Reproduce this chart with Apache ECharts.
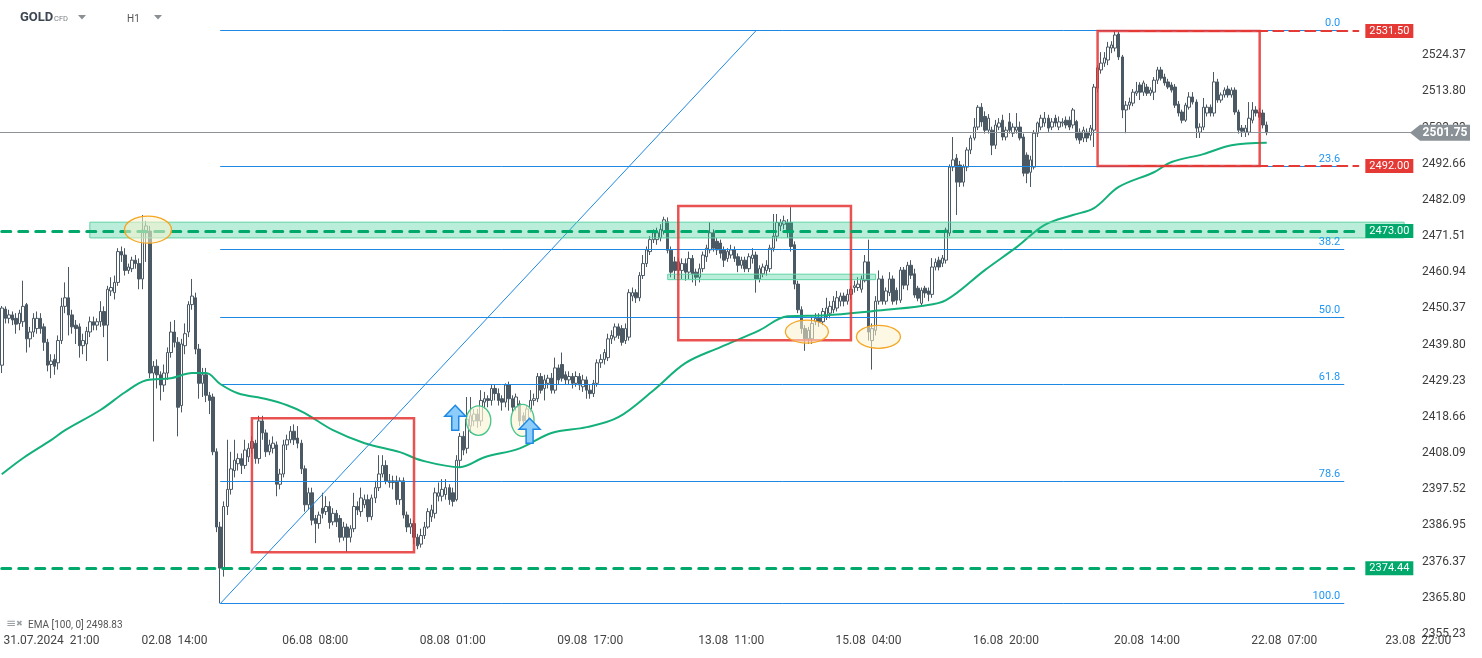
<!DOCTYPE html>
<html>
<head>
<meta charset="utf-8">
<title>GOLD H1</title>
<script src="https://cdn.jsdelivr.net/npm/echarts/dist/echarts.min.js"></script>
<style>
  html, body { margin: 0; padding: 0; background: #fff; }
  #chart { width: 1482px; height: 658px; }
</style>
</head>
<body>
<div id="chart"></div>
<script>
// GOLD CFD H1, bars from 31.07 11:00, each row: open, close, low, high
var candles = [
  [2433.8,2450.5,2431.5,2451.1],[2450.2,2447.5,2446.0,2451.0],[2447.5,2448.5,2446.0,2450.0],[2448.5,2447.0,2445.5,2449.5],
  [2447.5,2445.8,2443.0,2449.0],[2446.0,2449.0,2444.0,2450.0],[2446.5,2451.0,2445.0,2458.5],[2451.5,2441.5,2437.5,2452.0],
  [2441.5,2443.5,2439.0,2445.0],[2443.5,2447.5,2442.0,2449.0],[2444.5,2447.5,2443.0,2449.5],[2447.5,2444.5,2443.0,2449.0],
  [2445.0,2440.5,2438.0,2446.0],[2440.5,2433.8,2432.0,2441.5],[2434.0,2435.0,2430.0,2437.0],[2435.5,2433.5,2431.0,2437.0],
  [2434.5,2441.0,2432.5,2442.5],[2441.0,2451.0,2440.0,2453.5],[2451.0,2453.5,2449.0,2458.0],[2453.5,2448.5,2442.5,2462.5],
  [2448.5,2445.0,2443.0,2450.0],[2445.5,2444.5,2440.0,2447.0],[2445.0,2439.5,2436.0,2446.0],[2439.5,2441.0,2437.0,2443.0],
  [2440.0,2443.7,2435.0,2445.0],[2443.5,2446.5,2442.0,2448.0],[2446.5,2445.5,2444.0,2448.0],[2445.5,2446.5,2444.0,2447.5],
  [2446.5,2449.5,2445.0,2452.5],[2449.5,2445.5,2442.0,2451.0],[2445.5,2456.0,2435.0,2457.0],[2455.5,2456.5,2454.0,2459.5],
  [2455.0,2458.0,2453.0,2460.0],[2458.0,2467.0,2457.0,2468.0],[2467.0,2466.0,2464.0,2468.5],[2466.0,2461.5,2460.0,2468.0],
  [2461.5,2462.5,2460.5,2463.5],[2462.0,2464.5,2461.0,2465.5],[2464.5,2463.5,2462.0,2466.0],[2463.5,2459.0,2456.0,2465.0],
  [2459.0,2473.3,2456.0,2477.7],[2472.5,2474.5,2464.0,2476.0],[2473.0,2431.5,2430.0,2474.5],[2431.5,2433.5,2411.5,2435.0],
  [2433.5,2431.0,2427.0,2435.5],[2431.0,2428.0,2423.5,2432.0],[2428.0,2431.5,2426.0,2434.0],[2431.5,2437.5,2429.5,2439.0],
  [2437.5,2443.5,2436.0,2446.5],[2443.5,2440.5,2439.0,2447.0],[2440.5,2421.5,2413.0,2442.0],[2422.0,2440.0,2420.0,2441.5],
  [2439.5,2443.0,2437.0,2446.0],[2443.5,2451.5,2442.0,2452.5],[2451.5,2454.0,2450.0,2459.0],[2453.5,2438.5,2437.0,2455.0],
  [2438.5,2428.5,2424.0,2440.0],[2428.5,2431.0,2424.5,2433.0],[2431.0,2425.0,2423.0,2433.0],[2425.0,2423.5,2419.5,2426.0],
  [2424.5,2408.5,2407.5,2425.5],[2408.5,2386.5,2385.0,2409.5],[2386.5,2374.5,2364.2,2388.0],[2374.5,2392.5,2372.0,2394.0],
  [2392.5,2397.5,2390.0,2412.0],[2397.5,2403.5,2396.0,2408.5],[2403.0,2406.0,2401.0,2412.0],[2405.0,2406.5,2403.0,2408.0],
  [2406.5,2404.5,2402.0,2408.0],[2404.5,2409.0,2403.5,2412.0],[2407.0,2409.5,2405.5,2411.0],[2409.5,2411.5,2408.0,2413.0],
  [2411.0,2406.5,2405.0,2412.0],[2406.5,2417.5,2405.0,2419.0],[2417.5,2414.0,2412.0,2419.0],[2414.0,2408.5,2407.0,2415.0],
  [2408.5,2410.5,2407.5,2412.0],[2409.5,2411.0,2408.0,2413.0],[2410.5,2399.0,2395.5,2411.5],[2399.0,2402.0,2397.5,2403.5],
  [2402.0,2410.5,2401.0,2412.0],[2410.5,2412.0,2409.0,2413.5],[2412.0,2414.5,2411.0,2416.0],[2414.5,2412.0,2410.5,2416.5],
  [2412.5,2411.0,2409.5,2416.0],[2411.0,2403.5,2402.0,2412.0],[2403.5,2393.0,2391.0,2404.5],[2393.0,2396.5,2391.5,2398.0],
  [2396.5,2388.5,2387.0,2398.0],[2389.0,2387.5,2381.8,2390.0],[2387.5,2390.0,2386.0,2391.0],[2392.0,2390.5,2389.0,2396.5],
  [2391.0,2392.5,2390.0,2395.5],[2392.5,2387.8,2386.0,2394.0],[2388.0,2390.5,2387.0,2392.0],[2390.5,2388.0,2386.5,2391.5],
  [2389.0,2383.5,2382.0,2390.0],[2383.5,2386.5,2382.5,2388.0],[2386.5,2383.5,2379.2,2387.5],[2383.5,2386.0,2382.0,2387.0],
  [2386.0,2392.5,2385.0,2396.5],[2392.5,2391.5,2390.0,2394.0],[2391.0,2395.0,2389.5,2398.0],[2393.0,2394.5,2392.0,2396.0],
  [2394.5,2389.5,2388.0,2396.0],[2389.5,2395.0,2388.5,2396.0],[2395.0,2398.0,2393.5,2400.0],[2398.0,2402.0,2397.0,2407.5],
  [2402.0,2404.5,2401.0,2407.5],[2404.5,2400.0,2399.0,2406.0],[2400.0,2399.5,2398.0,2402.0],[2399.5,2400.0,2397.5,2401.5],
  [2400.0,2394.5,2393.0,2401.5],[2394.5,2400.0,2393.0,2401.0],[2400.0,2390.0,2389.0,2401.0],[2390.0,2386.5,2385.0,2391.0],
  [2386.5,2387.5,2384.5,2389.0],[2387.5,2383.5,2381.5,2388.5],[2383.5,2381.0,2380.0,2384.5],[2381.5,2384.0,2380.5,2386.0],
  [2384.0,2386.5,2383.0,2388.0],[2386.5,2391.0,2386.0,2392.0],[2389.5,2391.5,2388.0,2393.0],[2390.5,2396.5,2389.0,2398.0],
  [2395.5,2396.5,2394.0,2399.5],[2395.5,2397.5,2394.0,2400.5],[2396.0,2398.0,2394.5,2400.5],[2398.0,2394.5,2393.0,2399.0],
  [2396.5,2394.0,2392.5,2398.0],[2394.5,2406.0,2394.0,2407.5],[2406.0,2413.0,2404.0,2414.0],[2413.0,2409.0,2407.5,2414.5],
  [2409.5,2418.0,2408.0,2424.5],[2416.0,2419.0,2414.0,2424.5],[2417.5,2419.5,2416.0,2421.0],[2419.5,2417.5,2415.5,2421.0],
  [2417.5,2423.5,2416.0,2426.5],[2423.0,2424.0,2421.0,2426.0],[2424.0,2423.5,2421.5,2425.0],[2423.5,2427.0,2422.0,2428.0],
  [2427.0,2425.5,2423.5,2428.0],[2425.5,2423.5,2422.0,2427.0],[2424.0,2423.0,2420.5,2425.0],[2423.0,2428.0,2421.5,2428.5],
  [2428.0,2424.0,2420.5,2429.0],[2424.0,2421.5,2420.0,2425.0],[2421.5,2424.5,2420.5,2425.5],[2422.5,2417.5,2416.0,2423.5],
  [2419.0,2417.5,2416.0,2420.0],[2417.5,2421.0,2416.5,2422.0],[2421.0,2423.5,2420.0,2426.5],[2423.5,2424.0,2422.0,2425.5],
  [2424.0,2430.5,2423.0,2431.5],[2430.5,2426.5,2425.5,2431.5],[2427.0,2429.5,2423.5,2431.0],[2428.5,2430.0,2427.0,2431.0],
  [2430.0,2426.5,2425.5,2431.5],[2426.5,2433.0,2425.5,2436.0],[2433.0,2429.5,2428.0,2434.0],[2434.0,2430.0,2429.0,2437.5],
  [2431.0,2429.5,2428.0,2432.0],[2429.5,2430.5,2428.0,2432.0],[2430.5,2428.5,2427.0,2431.5],[2428.5,2430.5,2427.5,2432.0],
  [2430.5,2428.0,2426.5,2431.5],[2427.5,2429.5,2426.0,2431.0],[2429.5,2426.5,2424.0,2430.5],[2426.5,2425.5,2424.0,2428.0],
  [2425.5,2428.5,2424.5,2429.5],[2428.5,2434.5,2427.5,2435.5],[2434.5,2435.5,2433.0,2437.0],[2435.5,2437.5,2434.0,2438.5],
  [2436.0,2441.5,2435.0,2443.0],[2441.5,2442.5,2440.0,2444.0],[2442.0,2445.0,2441.0,2446.0],[2445.0,2442.5,2441.5,2446.0],
  [2444.5,2440.5,2439.5,2445.5],[2441.0,2444.5,2440.0,2446.0],[2442.0,2455.0,2441.0,2456.0],[2454.0,2455.0,2452.5,2456.5],
  [2455.0,2453.5,2452.0,2456.0],[2453.5,2460.0,2452.5,2461.0],[2460.0,2463.5,2459.0,2466.0],[2463.5,2467.5,2462.5,2468.5],
  [2467.0,2470.5,2466.0,2471.5],[2470.5,2472.5,2469.5,2473.5],[2470.5,2472.5,2469.0,2474.0],[2471.0,2473.5,2470.0,2475.0],
  [2473.0,2476.3,2472.0,2477.2],[2475.7,2467.4,2466.5,2477.0],[2467.4,2461.0,2459.5,2468.5],[2464.0,2461.5,2459.0,2465.5],
  [2461.5,2464.0,2460.0,2465.0],[2461.5,2463.5,2459.0,2465.0],[2463.5,2461.0,2458.5,2465.0],[2461.0,2465.0,2459.0,2467.0],
  [2465.0,2460.5,2458.0,2466.0],[2461.0,2459.5,2457.0,2462.0],[2459.5,2462.0,2458.0,2463.5],[2462.0,2466.0,2461.0,2467.0],
  [2465.5,2468.0,2464.0,2469.0],[2467.5,2472.5,2466.5,2475.6],[2472.5,2468.0,2467.0,2473.5],[2470.0,2467.5,2466.0,2471.0],
  [2469.5,2466.5,2465.0,2470.5],[2467.5,2464.5,2462.5,2468.5],[2465.0,2467.0,2464.0,2468.0],[2466.0,2467.5,2465.0,2469.0],
  [2467.5,2465.0,2464.0,2468.5],[2465.5,2463.0,2461.0,2466.5],[2463.0,2464.5,2462.0,2465.5],[2464.5,2462.0,2461.0,2465.5],
  [2462.0,2465.5,2461.0,2466.5],[2465.0,2466.0,2463.5,2468.0],[2466.0,2459.0,2455.0,2467.0],[2459.0,2462.0,2458.0,2463.0],
  [2460.5,2462.5,2459.5,2463.5],[2461.5,2463.0,2460.0,2464.5],[2462.0,2468.0,2461.0,2469.0],[2468.0,2471.5,2467.0,2478.0],
  [2471.5,2475.5,2470.0,2478.0],[2474.5,2475.5,2473.0,2476.5],[2475.0,2476.0,2473.5,2477.5],[2475.5,2472.5,2471.0,2476.5],
  [2475.5,2468.5,2467.0,2480.0],[2469.0,2457.5,2456.0,2470.0],[2457.5,2450.0,2449.0,2458.5],[2450.0,2444.5,2443.0,2451.0],
  [2444.5,2441.5,2438.0,2445.5],[2441.5,2444.0,2440.0,2445.0],[2441.5,2446.0,2440.0,2448.0],[2446.5,2447.5,2445.5,2449.0],
  [2447.5,2446.5,2445.0,2449.0],[2446.5,2449.5,2445.5,2450.5],[2448.0,2450.5,2447.0,2453.5],[2449.0,2451.0,2447.5,2452.5],
  [2450.0,2452.5,2449.0,2454.0],[2450.5,2453.5,2449.5,2455.5],[2452.5,2454.0,2451.0,2455.0],[2454.0,2452.5,2451.0,2455.0],
  [2452.5,2454.5,2451.5,2456.0],[2454.5,2456.0,2453.0,2457.0],[2456.5,2457.0,2455.0,2458.5],[2456.5,2457.5,2455.5,2459.5],
  [2456.0,2459.0,2455.0,2460.0],[2458.5,2464.0,2458.0,2466.0],[2464.0,2443.5,2441.0,2470.5],[2441.0,2444.5,2432.5,2446.0],
  [2444.0,2452.5,2442.5,2454.0],[2452.5,2459.0,2451.5,2461.5],[2459.0,2452.5,2451.5,2460.0],[2452.5,2455.5,2451.5,2456.5],
  [2455.0,2459.0,2454.0,2461.0],[2459.0,2452.5,2451.5,2460.0],[2455.7,2452.8,2451.5,2456.5],[2452.8,2461.6,2452.0,2462.5],
  [2461.6,2457.2,2456.0,2462.5],[2457.2,2463.0,2455.7,2464.0],[2463.0,2460.1,2459.0,2464.5],[2460.5,2454.3,2453.5,2462.0],
  [2456.3,2453.4,2452.5,2457.0],[2451.9,2455.7,2451.0,2456.5],[2456.3,2454.9,2453.5,2457.0],[2455.5,2454.5,2452.5,2456.5],
  [2454.5,2462.5,2453.5,2465.1],[2462.5,2463.9,2461.5,2465.0],[2464.5,2462.5,2461.5,2465.5],[2463.6,2465.1,2462.5,2466.0],
  [2464.5,2473.3,2463.5,2474.0],[2472.4,2491.7,2471.5,2492.5],[2491.7,2493.8,2490.5,2500.5],[2494.3,2487.3,2477.7,2495.5],
  [2492.3,2487.3,2485.9,2493.5],[2487.3,2491.7,2486.0,2492.5],[2491.7,2496.7,2490.5,2497.5],[2496.7,2500.2,2495.5,2501.0],
  [2500.2,2503.4,2499.5,2506.0],[2503.4,2509.2,2502.5,2509.8],[2509.2,2504.9,2503.5,2510.4],[2506.5,2502.5,2501.5,2508.0],
  [2502.5,2506.0,2501.5,2507.2],[2502.5,2498.1,2495.2,2503.5],[2498.1,2504.0,2497.0,2505.5],[2503.4,2504.6,2502.5,2506.0],
  [2505.4,2500.5,2499.5,2507.0],[2500.5,2502.5,2499.5,2503.5],[2504.9,2502.5,2501.5,2507.5],[2501.6,2503.4,2500.5,2504.5],
  [2502.5,2503.4,2501.5,2507.5],[2503.4,2500.2,2499.5,2505.0],[2500.5,2489.9,2489.0,2501.5],[2495.2,2489.9,2487.0,2496.0],
  [2490.2,2493.8,2485.9,2495.0],[2491.7,2501.6,2491.0,2502.5],[2501.6,2504.6,2500.5,2505.0],[2503.4,2506.0,2502.5,2507.0],
  [2504.6,2506.0,2503.5,2507.8],[2506.0,2503.1,2502.0,2507.0],[2503.4,2504.9,2502.5,2506.0],[2506.0,2504.6,2503.5,2507.0],
  [2503.4,2504.9,2502.5,2506.5],[2504.6,2504.9,2503.5,2506.0],[2505.4,2504.0,2503.0,2506.5],[2505.4,2503.4,2502.5,2506.5],
  [2504.0,2508.4,2503.0,2509.0],[2505.0,2500.2,2499.5,2505.5],[2501.9,2499.6,2498.5,2503.0],[2500.2,2502.5,2499.0,2503.5],
  [2501.9,2500.2,2499.0,2503.0],[2501.0,2503.1,2499.5,2504.0],[2502.5,2515.1,2497.6,2516.0],[2514.8,2520.7,2513.5,2521.5],
  [2520.1,2522.1,2519.0,2525.3],[2522.1,2523.6,2521.0,2525.3],[2523.0,2526.8,2521.5,2528.3],[2526.5,2527.4,2525.0,2528.5],
  [2526.5,2530.3,2525.5,2531.5],[2530.6,2523.9,2523.0,2531.3],[2523.9,2508.4,2506.0,2524.5],[2508.4,2509.8,2501.6,2511.0],
  [2509.8,2510.7,2508.5,2512.0],[2510.4,2513.6,2509.5,2514.5],[2513.3,2513.9,2512.5,2516.6],[2515.7,2513.6,2511.3,2516.5],
  [2513.6,2516.3,2512.5,2517.0],[2515.1,2513.3,2512.5,2516.0],[2513.3,2514.2,2512.5,2515.0],[2513.6,2517.1,2511.3,2518.0],
  [2517.1,2520.1,2516.0,2521.0],[2520.1,2517.7,2517.0,2521.0],[2518.0,2516.3,2515.5,2519.0],[2516.6,2515.1,2514.5,2517.5],
  [2515.7,2514.2,2513.5,2516.5],[2515.1,2509.8,2509.0,2516.0],[2510.1,2507.5,2506.5,2511.0],[2507.8,2505.4,2504.5,2508.5],
  [2505.4,2509.8,2504.9,2510.5],[2509.2,2512.2,2508.5,2513.6],[2512.2,2510.7,2510.0,2513.6],[2510.7,2503.1,2500.2,2511.5],
  [2501.9,2503.4,2500.2,2504.5],[2503.4,2509.2,2502.5,2511.9],[2507.5,2509.2,2506.5,2510.0],[2509.2,2507.5,2506.5,2510.0],
  [2507.5,2516.6,2506.5,2519.5],[2516.6,2511.3,2510.5,2517.5],[2511.3,2512.8,2510.5,2513.5],[2512.8,2514.2,2512.0,2515.0],
  [2514.5,2512.8,2512.0,2515.5],[2512.8,2514.2,2512.0,2515.0],[2514.2,2507.8,2507.0,2515.0],[2507.8,2502.5,2501.5,2508.5],
  [2503.1,2502.2,2500.5,2504.0],[2501.9,2503.1,2500.5,2504.0],[2501.9,2506.0,2501.0,2510.7],[2505.4,2508.4,2504.5,2510.7],
  [2508.4,2507.5,2506.5,2509.5],[2507.8,2506.3,2505.5,2509.0],[2507.5,2504.0,2503.0,2508.5],[2504.0,2501.75,2501.0,2505.0]
];

// EMA(100) at some bars
var emaBars   = [0, 6, 14, 18, 28, 35, 41, 48, 54, 58, 62, 67, 75, 81, 86, 94, 103, 113, 119, 130, 137, 147, 156, 166, 175,
                 185, 194, 204, 215, 223, 234, 247, 261, 268, 279, 288, 296, 304, 310, 317, 327, 332, 341, 349, 359];
var emaValues = [2401.9, 2406.6, 2411.9, 2414.8, 2420.7, 2425.9, 2429.4, 2430.0, 2431.5, 2431.5, 2428.3, 2425.6, 2423.9,
                 2422.1, 2419.8, 2414.8, 2411.0, 2408.4, 2406.0, 2404.0, 2406.9, 2409.5, 2414.0, 2415.7, 2418.6, 2426.5,
                 2434.4, 2439.1, 2444.0, 2448.1, 2448.4, 2449.6, 2451.1, 2452.8, 2461.6, 2468.3, 2474.8, 2477.7, 2479.7,
                 2485.9, 2490.2, 2493.2, 2495.5, 2498.1, 2498.83];

var tickLabels = ['31.07.2024  21:00', '02.08  14:00', '06.08  08:00', '08.08  01:00', '09.08  17:00', '13.08  11:00',
                  '15.08  04:00', '16.08  20:00', '20.08  14:00', '22.08  07:00', '23.08  22:00'];

var fibLevels = [0, 23.6, 38.2, 50, 61.8, 78.6, 100];
var fibLow = 2364.1, fibHigh = 2531.5;
var greenLevels = [2473.00, 2374.44];
var redLevels = [2531.50, 2492.00];
var lastPrice = 2501.75;
var emaLast = 2498.83;

// zones: [fromBar, top, toBar, bottom]
var bands = [[25, 2475.6, 398, 2471.0], [189, 2460.4, 248, 2458.8]];
var boxes = [[71, 2418.3, 117, 2379.1], [192, 2480.3, 241, 2441.1], [311, 2531.5, 357, 2492.0]];
// marks: [bar, price, rx, ry]
var orangeMarks = [[41.5, 2473.4, 23.5, 13.5], [228.5, 2443.6, 21.5, 11.5], [248.8, 2442.1, 22, 11.5]];
var greenMarks = [[135.3, 2417.6, 12.3, 14.7], [147.8, 2417.7, 11.5, 16]];
var arrows = [[128.7, 2422.1], [149.8, 2418.3]];

var FONT = 'Roboto, "Noto Sans", sans-serif';
var BLUE = '#1e88e5';

// hourly trading bars Mon-Fri, no 23:00 bar
var categories = [];
function pad(n) { return (n < 10 ? '0' : '') + n; }
(function () {
  var t = Date.UTC(2024, 6, 31, 11);
  while (categories.length < 403) {
    var d = new Date(t), wd = d.getUTCDay(), h = d.getUTCHours();
    if (wd >= 1 && wd <= 5 && h !== 23) {
      categories.push(pad(d.getUTCDate()) + '.' + pad(d.getUTCMonth() + 1) + '  ' + pad(h) + ':00');
    }
    t += 3600000;
  }
})();
var tickKeys = tickLabels.map(function (s) { return s.replace('.2024', ''); });

var chart = echarts.init(document.getElementById('chart'));

function fibValue(lv) { return fibHigh - (fibHigh - fibLow) * lv / 100; }

var mlData = [];
mlData.push({ yAxis: lastPrice, lineStyle: { color: '#8d9499', width: 1, type: 'solid' } });
function tagLine(v, from, color, dash, width) {
  var ls = { color: color, width: width, type: dash, cap: 'round' };
  return [
    { coord: [from, v], lineStyle: ls,
      label: { show: true, position: 'end', distance: 7, formatter: v.toFixed(2), color: '#fff',
               backgroundColor: color, padding: [2, 4, 1, 4], fontSize: 11, fontFamily: FONT } },
    { coord: [385, v], lineStyle: ls }
  ];
}
greenLevels.forEach(function (v) { mlData.push(tagLine(v, 0, '#00a86b', [9, 8], 3)); });
redLevels.forEach(function (v) { mlData.push(tagLine(v, 320, '#e53935', [10, 6], 2)); });

var maData = [];
bands.forEach(function (b) {
  maData.push([{ coord: [b[0], b[1]], itemStyle: { color: 'rgba(40,200,140,0.32)', borderColor: '#5fd3a5', borderWidth: 1 } },
               { coord: [b[2], b[3]] }]);
});
boxes.forEach(function (b) {
  maData.push([{ coord: [b[0], b[1]], itemStyle: { color: 'rgba(0,0,0,0)', borderColor: 'rgba(230,52,52,0.85)', borderWidth: 2.5 } },
               { coord: [b[2], b[3]] }]);
});

chart.setOption({
  animation: false,
  backgroundColor: '#ffffff',
  grid: { left: 0, right: 62, top: 0, bottom: 24, containLabel: false, outerBoundsMode: 'none' },
  xAxis: {
    type: 'category',
    data: categories,
    boundaryGap: true,
    axisLine: { show: false },
    axisTick: { show: false },
    splitLine: { show: false },
    axisLabel: {
      margin: 1,
      color: '#444',
      fontSize: 12,
      fontFamily: FONT,
      interval: function (idx, val) { return tickKeys.indexOf(val) >= 0; },
      formatter: function (val) {
        var k = tickKeys.indexOf(val);
        if (k === 0) return '{f|' + tickLabels[0] + '}';
        return k >= 0 ? tickLabels[k] : '';
      },
      rich: { f: { padding: [0, 0, 0, 29], color: '#444', fontSize: 12, fontFamily: FONT } }
    }
  },
  yAxis: {
    type: 'value',
    position: 'right',
    min: 2355.2316,
    max: 2540.54,
    interval: 10.5712,
    axisLine: { show: false },
    axisTick: { show: false },
    splitLine: { show: false },
    axisLabel: {
      margin: 2,
      color: '#3c3c3c',
      fontSize: 12,
      fontFamily: FONT,
      padding: [0, 0, 5, 0],
      formatter: function (v) { return v > 2530 ? '' : v.toFixed(2); }
    }
  },
  series: [
    {
      type: 'candlestick',
      data: candles,
      barWidth: 3,
      itemStyle: {
        color: '#ffffff', color0: '#4a5964',
        borderColor: '#4a5964', borderColor0: '#4a5964', borderColorDoji: '#4a5964',
        borderWidth: 1
      }
    },
    {
      type: 'line',
      data: emaBars.map(function (b, k) { return [b, emaValues[k]]; }),
      smooth: 0.35,
      symbol: 'none',
      lineStyle: { color: '#14b07a', width: 2 },
      markArea: { silent: true, z: 4, data: maData },
      markLine: { silent: true, z: 5, symbol: ['none', 'none'], label: { show: false }, data: mlData }
    },
    {
      // fibonacci diagonal from the low to the high
      type: 'line',
      data: [[62, fibLow], [214, fibHigh]],
      symbol: 'none', silent: true, z: 3,
      lineStyle: { color: BLUE, width: 1 },
      emphasis: { disabled: true }
    }
  ]
});

function px(i, v) {
  var f = Math.floor(i);
  var a = chart.convertToPixel({ gridIndex: 0 }, [f, v]);
  var b = chart.convertToPixel({ gridIndex: 0 }, [f + 1, v]);
  return [a[0] + (i - f) * (b[0] - a[0]), a[1]];
}

var g = [];
// fibonacci levels, snapped to a pixel row so they stay crisp; kept under the boxes and dashed levels
fibLevels.forEach(function (lv) {
  var a = px(62, fibValue(lv)), b = px(381, fibValue(lv));
  var y = Math.floor(a[1]) + 0.5;
  g.push({ type: 'line', z: 3, silent: true, shape: { x1: a[0], y1: y, x2: b[0], y2: y },
           style: { stroke: BLUE, lineWidth: 1 } });
  g.push({ type: 'text', z: 30, silent: true, x: b[0] - 4, y: y - 2,
           style: { text: lv.toFixed(1), fill: '#2196f3', font: '11px ' + FONT, align: 'right', verticalAlign: 'bottom' } });
});
orangeMarks.forEach(function (m) {
  var p = px(m[0], m[1]);
  g.push({ type: 'ellipse', z: 20, silent: true, shape: { cx: p[0], cy: p[1], rx: m[2], ry: m[3] },
           style: { fill: 'rgba(252,242,205,0.55)', stroke: '#f5a623', lineWidth: 1.3 } });
});
greenMarks.forEach(function (m) {
  var p = px(m[0], m[1]);
  g.push({ type: 'ellipse', z: 20, silent: true, shape: { cx: p[0], cy: p[1], rx: m[2], ry: m[3] },
           style: { fill: 'rgba(250,245,215,0.7)', stroke: '#47c48b', lineWidth: 1.3 } });
});
arrows.forEach(function (a) {
  var p = px(a[0], a[1]), x = p[0], y = p[1];
  g.push({ type: 'polygon', z: 21, silent: true,
           shape: { points: [[x, y], [x + 10.5, y + 11], [x + 3.5, y + 11], [x + 3.5, y + 25], [x - 3.5, y + 25],
                             [x - 3.5, y + 11], [x - 10.5, y + 11]] },
           style: { fill: '#8ccdfc', stroke: '#1e88e5', lineWidth: 1.5 } });
});
var yl = px(0, lastPrice)[1];
g.push({ type: 'polygon', z: 30, silent: true,
         shape: { points: [[1410, yl], [1420, yl - 8], [1470, yl - 8], [1470, yl + 8], [1420, yl + 8]] },
         style: { fill: '#8a9297' } });
g.push({ type: 'text', z: 31, silent: true, x: 1445, y: yl,
         style: { text: lastPrice.toFixed(2), fill: '#fff', font: 'bold 12px ' + FONT, align: 'center', verticalAlign: 'middle' } });
// header
g.push({ type: 'text', z: 30, x: 20, y: 18, style: { text: 'GOLD', fill: '#3d4751', font: 'bold 13px ' + FONT, verticalAlign: 'middle' } });
g.push({ type: 'text', z: 30, x: 54, y: 19, style: { text: 'CFD', fill: '#7d8286', font: '7.5px ' + FONT, verticalAlign: 'middle' } });
g.push({ type: 'polygon', z: 30, shape: { points: [[78, 15], [86, 15], [82, 19.5]] }, style: { fill: '#8a8f94' } });
g.push({ type: 'text', z: 30, x: 127, y: 19, style: { text: 'H1', fill: '#555', font: '10px ' + FONT, verticalAlign: 'middle' } });
g.push({ type: 'polygon', z: 30, shape: { points: [[154, 15], [162, 15], [158, 19.5]] }, style: { fill: '#8a8f94' } });
// indicator legend
g.push({ type: 'text', z: 30, x: 6, y: 624, style: { text: '\u2261', fill: '#9aa0a4', font: '12px "DejaVu Sans"', verticalAlign: 'middle' } });
g.push({ type: 'text', z: 30, x: 16, y: 624, style: { text: '\u2716', fill: '#9aa0a4', font: '8px "DejaVu Sans"', verticalAlign: 'middle' } });
g.push({ type: 'text', z: 30, x: 28, y: 625, style: { text: 'EMA [100, 0] ' + emaLast.toFixed(2), fill: '#555', font: '10px ' + FONT, verticalAlign: 'middle' } });

chart.setOption({ graphic: g });
</script>
</body>
</html>
